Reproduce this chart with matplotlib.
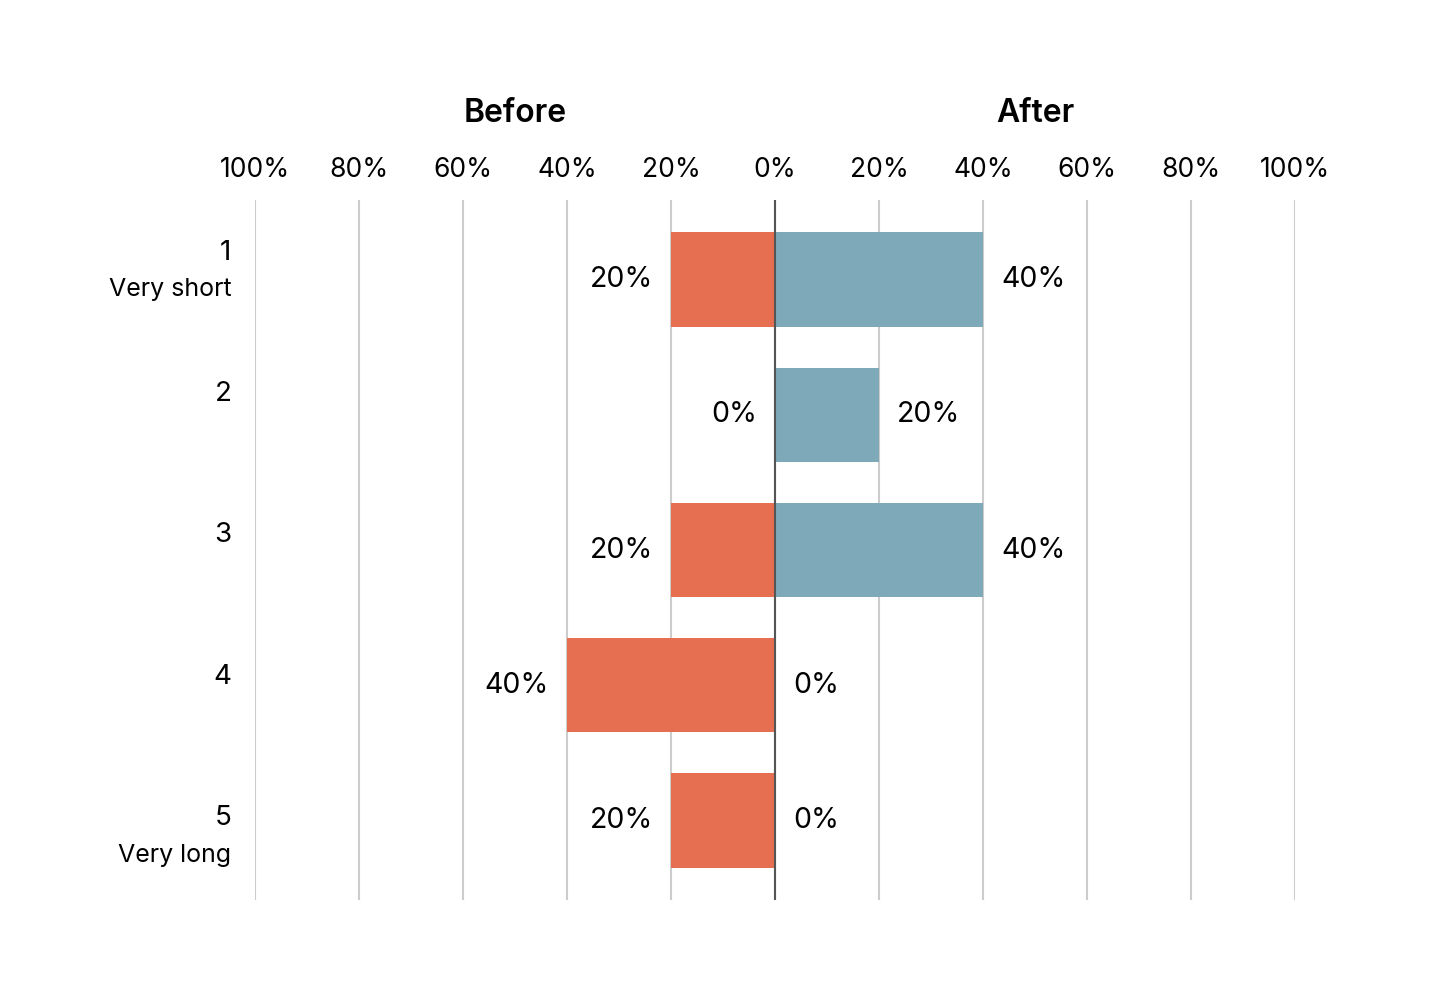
import matplotlib
matplotlib.use("Agg")
import matplotlib.pyplot as plt

categories = ["1", "2", "3", "4", "5"]
sublabels = ["Very short", "", "", "", "Very long"]
before = [20, 0, 20, 40, 20]
after = [40, 20, 40, 0, 0]
tick_values = [-100, -80, -60, -40, -20, 0, 20, 40, 60, 80, 100]
tick_labels = ["100%", "80%", "60%", "40%", "20%", "0%", "20%", "40%", "60%", "80%", "100%"]

plt.rcParams['font.family'] = ['Inter', 'DejaVu Sans']

BEFORE_C = "#E66F51"
AFTER_C = "#7EA9B8"

fig = plt.figure(figsize=(14.36, 10.08), dpi=100)
ax = fig.add_axes([255/1436, 1-900/1008, 1040/1436, 700/1008])

n = len(categories)
ys = list(range(n))
h = 0.70
ax.barh(ys, [-v for v in before], height=h, color=BEFORE_C, zorder=2)
ax.barh(ys, after, height=h, color=AFTER_C, zorder=2)

ax.set_xlim(-100, 100)
ax.set_ylim(n - 1 + 0.59, -0.59)

for t in tick_values:
    ax.axvline(t, color="#cccccc", lw=1.5, zorder=1)
ax.axvline(0, color="#555555", lw=1.5, zorder=3)

ax.xaxis.tick_top()
ax.set_xticks(tick_values)
ax.set_xticklabels(tick_labels, fontsize=19)
ax.tick_params(axis="x", length=0, pad=12)
ax.set_yticks([])
for s in ax.spines.values():
    s.set_visible(False)

for y, b, a in zip(ys, before, after):
    ax.annotate(f"{b}%", (-b, y), xytext=(-13, 0), textcoords="offset points",
                ha="right", va="center", fontsize=20.5)
    ax.annotate(f"{a}%", (a, y), xytext=(13, 0), textcoords="offset points",
                ha="left", va="center", fontsize=20.5)

for i, (c, s) in enumerate(zip(categories, sublabels)):
    yl = -0.20 + i * 1.046
    ax.annotate(c, (0, yl), xycoords=("axes fraction", "data"), xytext=(-17, 0),
                textcoords="offset points", ha="right", va="center", fontsize=20)
    if s:
        ax.annotate(s, (0, yl + 0.274), xycoords=("axes fraction", "data"), xytext=(-17, 0),
                    textcoords="offset points", ha="right", va="center", fontsize=18)

ax.text(-50, 1.124, "Before", transform=ax.get_xaxis_transform(), ha="center",
        va="center", fontsize=23, fontweight="semibold")
ax.text(50, 1.124, "After", transform=ax.get_xaxis_transform(), ha="center",
        va="center", fontsize=23, fontweight="semibold")

fig.savefig("out.png", dpi=100)
